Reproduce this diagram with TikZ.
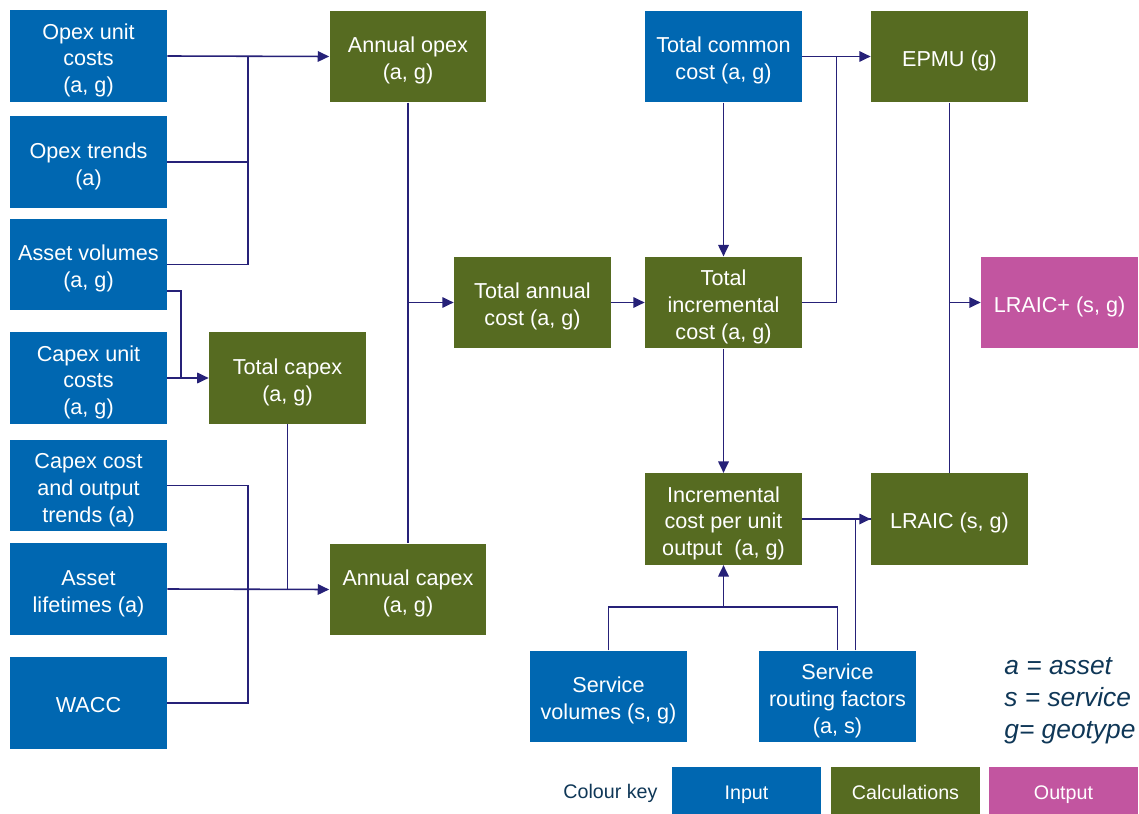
\documentclass[tikz,border=0pt]{standalone}
\usepackage{fontspec}
\setmainfont{Liberation Sans}
\usetikzlibrary{arrows.meta,calc}
\definecolor{inblue}{HTML}{0067B1}
\definecolor{calcgreen}{HTML}{566B21}
\definecolor{outpink}{HTML}{C255A0}
\definecolor{linenavy}{HTML}{262178}
\definecolor{keytext}{HTML}{0F3757}
\begin{document}
\begin{tikzpicture}[x=0.02cm,y=-0.02cm,
  box/.style={minimum width=3.14cm,minimum height=1.83cm,inner sep=0pt,align=center,text=white,
    font=\fontsize{12.3}{15.3}\selectfont,text depth=0pt,text height=11.3pt},
  h2/.style={text height=26.6pt},
  h3/.style={text height=41.9pt},
  inbox/.style={box,fill=inblue},
  calcbox/.style={box,fill=calcgreen},
  outbox/.style={box,fill=outpink},
  keybox/.style={minimum width=2.98cm,minimum height=0.94cm,inner sep=0pt,text=white,
    font=\fontsize{11.2}{13}\selectfont,text height=10.8pt,text depth=0pt},
  link/.style={draw=linenavy,line width=0.9pt},
  conn/.style={link,-{Triangle[length=6.5pt,width=6pt]}}]
\useasboundingbox (0,0) rectangle (1139,814);

% inputs, left column
\node[inbox,h3] (ouc) at (88.5,56) {Opex unit\\costs\\(a, g)};
\node[inbox,h2] (ot) at (88.5,162) {Opex trends\\(a)};
\node[inbox,h2] (av) at (88.5,264.5) {Asset volumes\\(a, g)};
\node[inbox,h3] (cuc) at (88.5,378) {Capex unit\\costs\\(a, g)};
\node[inbox,h3] (coct) at (88.5,485.5) {Capex cost\\and output\\trends (a)};
\node[inbox,h2] (al) at (88.5,589) {Asset\\lifetimes (a)};
\node[inbox] (wacc) at (88.5,703) {WACC};

% calculations
\node[calcbox,h2] (aopex) at (408,56.5) {Annual opex\\(a, g)};
\node[calcbox,h2] (tcapex) at (287.5,378) {Total capex\\(a, g)};
\node[calcbox,h2] (acapex) at (408,589.5) {Annual capex\\(a, g)};
\node[calcbox,h2] (tac) at (532.5,302.5) {Total annual\\cost (a, g)};
\node[inbox,h2] (tcc) at (723.5,56.5) {Total common\\cost (a, g)};
\node[calcbox,h3] (tic) at (723.5,302.5) {Total\\incremental\\cost (a, g)};
\node[calcbox] (epmu) at (949.5,56.5) {EPMU (g)};
\node[outbox] (lraicp) at (1059.5,302.5) {LRAIC+ (s, g)};
\node[calcbox,h3] (icpu) at (723.5,519) {Incremental\\cost per unit\\output~ (a, g)};
\node[calcbox] (lraic) at (949.5,519) {LRAIC (s, g)};
\node[inbox,h2] (sv) at (608.5,696.5) {Service\\volumes (s, g)};
\node[inbox,h3] (srf) at (837.5,696.5) {Service\\routing factors\\(a, s)};

% junction points
\coordinate (j1) at (248,57);
\coordinate (j2) at (181,378);
\coordinate (j3) at (248,590);
\coordinate (j4) at (836.5,57);
\coordinate (j5) at (723.5,607);

% opex inputs
\draw[conn] (ouc.east) -- (aopex.west);
\draw[link] (ot.east) -| (j1);
\draw[link] (av.east) -| (j1);

% capex inputs
\draw[link] ($(av.east)+(0,26.5)$) -| (j2);
\draw[conn] (cuc.east) -- (tcapex.west);
\draw[link] (coct.east) -| (j3);
\draw[link] (wacc.east) -| (j3);
\draw[conn] (al.east) -- (acapex.west);
\draw[link] (tcapex.south) -- (tcapex.south |- acapex.west);

% annual costs
\draw[link] (aopex.south) -- (acapex.north);
\draw[conn] (aopex.south |- tac.west) -- (tac.west);
\draw[conn] (tac.east) -- (tic.west);

% common and incremental
\draw[conn] (tcc.south) -- (tic.north);
\draw[conn] (tcc.east) -- (epmu.west);
\draw[link] (tic.east) -| (j4);
\draw[conn] (tic.south) -- (icpu.north);
\draw[conn] (icpu.east) -- (lraic.west);

% mark-up
\draw[link] (epmu.south) -- (lraic.north);
\draw[conn] (epmu.south |- lraicp.west) -- (lraicp.west);

% services
\draw[link] (sv.north) |- (j5) -| (srf.north);
\draw[conn] (j5) -- (icpu.south);
\draw[link] ($(srf.north)+(18,0)$) |- (lraic.west);

% legend
\node[anchor=north west,inner sep=0pt,text=keytext,align=left,
  font=\fontsize{15}{18}\selectfont\itshape] (leg) at (1004,657.5)
  {a = asset\\s = service\\g= geotype};

% colour key
\node[text=keytext,inner sep=0pt,font=\fontsize{11.2}{13}\selectfont] (ck) at (610.5,793) {Colour key};
\node[keybox,fill=inblue] (kin) at (746.5,790.5) {Input};
\node[keybox,fill=calcgreen] (kcalc) at (905.5,790.5) {Calculations};
\node[keybox,fill=outpink] (kout) at (1063.5,790.5) {Output};
\end{tikzpicture}
\end{document}
